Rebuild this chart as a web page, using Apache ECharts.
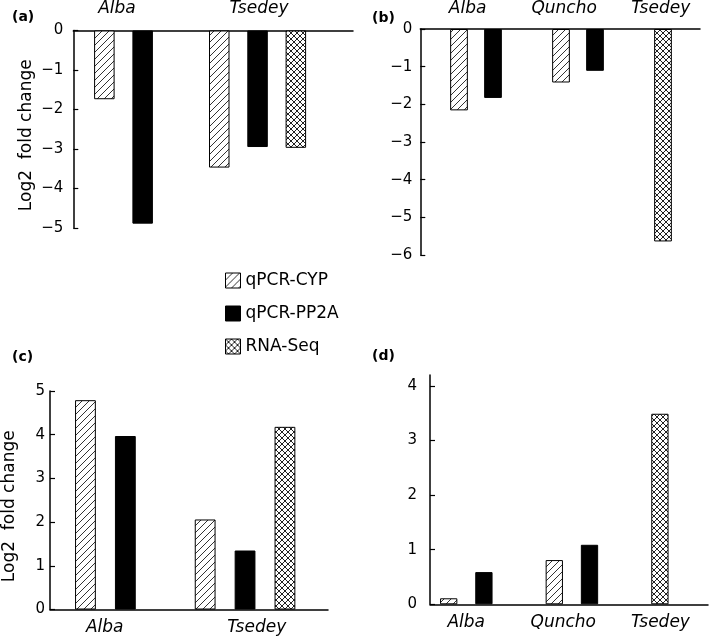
<!DOCTYPE html>
<html><head><meta charset="utf-8">
<script src="https://cdn.jsdelivr.net/npm/echarts@6/dist/echarts.min.js"></script>
<style>html,body{margin:0;padding:0;background:#fff}#chart{width:709px;height:637px}</style>
</head><body><div id="chart"></div>
<script>
// ---------- data ----------
const seriesNames = ['qPCR-CYP', 'qPCR-PP2A', 'RNA-Seq'];

const aGroups = ['Alba', 'Tsedey'];
const aCYP  = [-1.74, -3.47];
const aPP2A = [-4.89, -2.95];
const aRNA  = [null, -2.97];
const aTicks = [0, -1, -2, -3, -4, -5];

const bGroups = ['Alba', 'Quncho', 'Tsedey'];
const bCYP  = [-2.16, -1.42, null];
const bPP2A = [-1.83, -1.11, null];
const bRNA  = [null, null, -5.64];
const bTicks = [0, -1, -2, -3, -4, -5, -6];

const cGroups = ['Alba', 'Tsedey'];
const cCYP  = [4.79, 2.06];
const cPP2A = [3.97, 1.35];
const cRNA  = [null, 4.18];
const cTicks = [0, 1, 2, 3, 4, 5];

const dGroups = ['Alba', 'Quncho', 'Tsedey'];
const dCYP  = [0.11, 0.81, null];
const dPP2A = [0.59, 1.09, null];
const dRNA  = [null, null, 3.49];
const dTicks = [0, 1, 2, 3, 4];

const yAxisName = 'Log2  fold change';

// ---------- styles ----------
const FONT = 'DejaVu Sans';
function diagPattern(size) {
  const c = document.createElement('canvas'); c.width = c.height = size;
  const g = c.getContext('2d');
  g.fillStyle = '#fff'; g.fillRect(0, 0, size, size);
  g.strokeStyle = '#333'; g.lineWidth = 1;
  g.beginPath();
  g.moveTo(-1, size + 1); g.lineTo(size + 1, -1);
  g.moveTo(-1, 1); g.lineTo(1, -1);
  g.moveTo(size - 1, size + 1); g.lineTo(size + 1, size - 1);
  g.stroke();
  return c;
}
function crossPattern(size) {
  const c = document.createElement('canvas'); c.width = c.height = size;
  const g = c.getContext('2d');
  g.fillStyle = '#fff'; g.fillRect(0, 0, size, size);
  g.strokeStyle = '#222'; g.lineWidth = 1;
  g.beginPath();
  g.moveTo(-1, size + 1); g.lineTo(size + 1, -1);
  g.moveTo(-1, 1); g.lineTo(1, -1);
  g.moveTo(size - 1, size + 1); g.lineTo(size + 1, size - 1);
  g.moveTo(-1, -1); g.lineTo(size + 1, size + 1);
  g.moveTo(-1, size - 1); g.lineTo(1, size + 1);
  g.moveTo(size - 1, -1); g.lineTo(size + 1, 1);
  g.stroke();
  return c;
}
const fills = [
  { image: diagPattern(7), repeat: 'repeat' },
  '#000',
  { image: crossPattern(6), repeat: 'repeat' }
];

// ---------- layout ----------
const panels = [
  { tag: '(a)', groups: aGroups, vals: [aCYP, aPP2A, aRNA], ticks: aTicks, min: -5, max: 0,
    frame: { left: 73.3, top: 30.5, width: 279.7, height: 197.5 }, xPos: 'top',
    bars: { left: 85.2, width: 229.8 }, barWidth: 20.5,
    lab: { left: 46, width: 284, margin: 13 }, tickMargin: 10,
    name: yAxisName, nameGap: 38, title: { left: 12, top: 10 } },
  { tag: '(b)', groups: bGroups, vals: [bCYP, bPP2A, bRNA], ticks: bTicks, min: -6, max: 0,
    frame: { left: 420.3, top: 29, width: 279.7, height: 226 }, xPos: 'top',
    bars: { left: 442, width: 238 }, barWidth: 17.7,
    lab: { left: 419.3, width: 291.3, margin: 13 }, tickMargin: 8,
    title: { left: 372, top: 11 } },
  { tag: '(c)', groups: cGroups, vals: [cCYP, cPP2A, cRNA], ticks: cTicks, min: 0, max: 5,
    frame: { left: 49.3, top: 391, width: 278.7, height: 218.5 }, xPos: 'bottom',
    bars: { left: 65.5, width: 239.4 }, barWidth: 20.8,
    lab: { left: 28.7, width: 304, margin: 10 }, tickMargin: 5,
    name: yAxisName, nameGap: 32, title: { left: 12, top: 350 } },
  { tag: '(d)', groups: dGroups, vals: [dCYP, dPP2A, dRNA], ticks: dTicks, min: 0, max: 4.2,
    frame: { left: 430, top: 375, width: 278, height: 229.3 }, xPos: 'bottom',
    bars: { left: 431.1, width: 246.4 }, barWidth: 17.3,
    lab: { left: 417.6, width: 294.5, margin: 10 }, tickMargin: 13,
    title: { left: 372, top: 349 } }
];

const grid = [], xAxis = [], yAxis = [], series = [], title = [];
const minus = v => String(v).replace('-', '\u2212');

panels.forEach(p => {
  // build slots: present bars of each group, a blank slot between groups
  const slots = [];
  const slotData = [[], [], []];
  p.groups.forEach((g, gi) => {
    if (gi > 0) { slots.push(''); slotData.forEach(d => d.push(null)); }
    p.vals.forEach((arr, si) => {
      if (arr[gi] !== null && arr[gi] !== undefined) {
        slots.push(g + '-' + seriesNames[si]);
        slotData.forEach((d, k) => d.push(k === si ? arr[gi] : null));
      }
    });
  });

  // frame grid (visible axes)
  const fi = grid.length;
  grid.push({ left: p.frame.left, top: p.frame.top, width: p.frame.width, height: p.frame.height, containLabel: false });
  xAxis.push({ gridIndex: fi, type: 'value', min: 0, max: 1, position: p.xPos,
    axisLine: { show: true, onZero: false, lineStyle: { color: '#000', width: 1.5 } },
    axisTick: { show: false }, axisLabel: { show: false }, splitLine: { show: false } });
  yAxis.push({ gridIndex: fi, type: 'value', min: p.min, max: p.max,
    axisLine: { show: true, lineStyle: { color: '#000', width: 1.5 } },
    axisTick: { show: true, inside: true, length: 5, customValues: p.ticks, lineStyle: { color: '#000', width: 1.2 } },
    axisLabel: { show: true, customValues: p.ticks, formatter: minus, margin: p.tickMargin,
      color: '#000', fontSize: 15, fontFamily: FONT },
    splitLine: { show: false },
    name: p.name || '', nameLocation: 'middle', nameGap: p.nameGap || 30,
    nameTextStyle: { color: '#000', fontSize: 17, fontFamily: FONT, padding: [0, 12, 0, 0] } });

  // bars grid (hidden axes, same vertical scale)
  const bi = grid.length;
  grid.push({ left: p.bars.left, top: p.frame.top, width: p.bars.width, height: p.frame.height, containLabel: false });
  xAxis.push({ gridIndex: bi, type: 'category', data: slots, show: false });
  yAxis.push({ gridIndex: bi, type: 'value', min: p.min, max: p.max, show: false });
  seriesNames.forEach((nm, si) => {
    series.push({ type: 'bar', name: nm, xAxisIndex: bi, yAxisIndex: bi,
      data: slotData[si], barWidth: p.barWidth, barGap: '-100%',
      itemStyle: { color: fills[si], borderColor: '#000', borderWidth: 1 },
      silent: true });
  });

  // group labels grid
  const li = grid.length;
  grid.push({ left: p.lab.left, top: p.frame.top, width: p.lab.width, height: p.frame.height, containLabel: false });
  xAxis.push({ gridIndex: li, type: 'category', data: p.groups, position: p.xPos,
    axisLine: { show: false }, axisTick: { show: false },
    axisLabel: { show: true, interval: 0, margin: p.lab.margin, color: '#000',
      fontSize: 17, fontStyle: 'italic', fontFamily: FONT } });
  yAxis.push({ gridIndex: li, type: 'value', min: 0, max: 1, show: false });

  title.push({ text: p.tag, left: p.title.left, top: p.title.top, padding: 0,
    textStyle: { fontSize: 14, fontWeight: 'bold', color: '#000', fontFamily: FONT } });
});

const chart = echarts.init(document.getElementById('chart'), null, { renderer: 'canvas' });
chart.setOption({
  animation: false,
  backgroundColor: '#fff',
  title,
  legend: {
    data: seriesNames, orient: 'vertical', left: 225, top: 272, padding: 0,
    itemWidth: 15, itemHeight: 15, itemGap: 16, icon: 'rect', selectedMode: false,
    itemStyle: { borderColor: '#000', borderWidth: 1 },
    textStyle: { color: '#000', fontSize: 17, fontFamily: FONT }
  },
  grid, xAxis, yAxis, series
});
</script>
</body></html>
